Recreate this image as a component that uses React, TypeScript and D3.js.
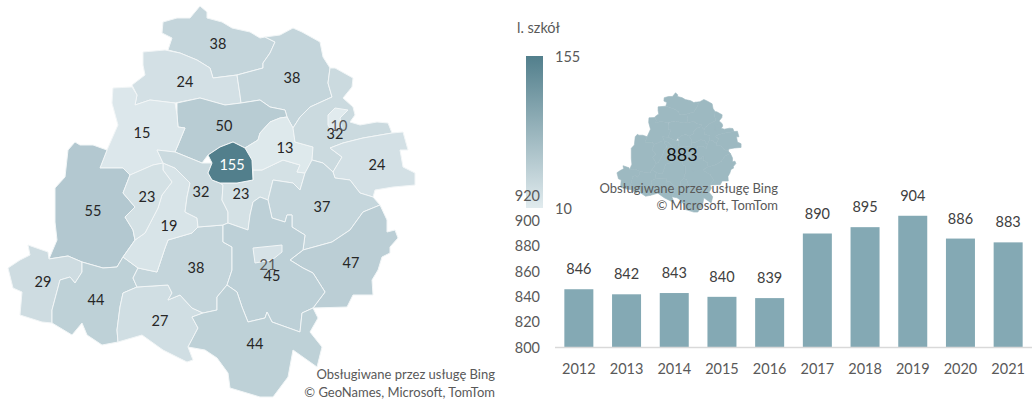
import React from "react";
import * as d3 from "d3";

// ---- bar chart data ----
const years = ["2012","2013","2014","2015","2016","2017","2018","2019","2020","2021"];
const schoolTotals = [846,842,843,840,839,890,895,904,886,883];
const axisTicks = [800,820,840,860,880,900,920];

// ---- map data: one entry per district, same order in every list ----
const regionValues = [38,24,38,50,15,55,29,44,27,38,19,23,32,23,13,32,24,37,47,45,44,155,10,21];

// district outlines in the map's own planar units
const regionOutlines: number[][][] = [
  [[200,6],[207,12],[207,18],[222,22],[232,28],[250,32],[260,38],[265,37],[275,42],[270,53],[263,63],[263,68],[237,75],[213,78],[210,68],[197,60],[180,53],[168,50],[172,38],[162,33],[163,22],[177,18],[190,18],[195,12]],
  [[143,52],[165,50],[180,53],[197,60],[210,68],[213,78],[237,75],[240,95],[241,103],[225,105],[200,98],[175,103],[150,100],[135,105],[137,95],[132,85],[145,75],[143,65]],
  [[293,28],[302,32],[320,42],[323,57],[330,68],[328,83],[332,97],[310,107],[300,117],[293,128],[287,117],[285,110],[270,107],[260,100],[241,103],[240,95],[237,75],[263,68],[263,63],[270,53],[275,42],[265,37],[280,35]],
  [[177,103],[200,98],[225,105],[241,103],[260,100],[270,107],[285,110],[287,117],[280,118],[270,122],[260,133],[258,140],[245,148],[233,142],[220,147],[208,155],[202,163],[175,152],[178,145],[185,128],[178,127],[177,115]],
  [[113,88],[132,87],[137,95],[135,105],[150,100],[175,103],[177,115],[178,127],[185,128],[178,145],[175,152],[157,150],[163,163],[153,165],[130,175],[123,168],[100,168],[107,150],[118,125],[112,103]],
  [[75,142],[80,145],[93,145],[107,150],[100,168],[123,168],[130,175],[123,193],[135,207],[125,217],[133,230],[135,240],[123,257],[117,267],[103,268],[82,262],[68,256],[49,259],[57,240],[55,222],[55,200],[55,188],[65,177],[68,150]],
  [[28,245],[48,252],[49,259],[68,256],[82,262],[82,272],[75,283],[70,277],[60,280],[52,310],[52,323],[42,322],[20,315],[22,292],[13,288],[8,268],[20,260],[30,255]],
  [[82,262],[103,268],[117,267],[123,257],[138,268],[133,278],[137,287],[123,293],[120,307],[117,330],[118,342],[102,345],[87,335],[82,323],[72,335],[52,323],[52,310],[60,280],[70,277],[75,283],[82,272]],
  [[137,287],[168,285],[172,293],[168,300],[180,295],[192,308],[203,313],[192,317],[198,328],[188,347],[193,360],[187,362],[163,350],[142,335],[118,342],[117,330],[120,307],[123,293]],
  [[168,240],[192,233],[198,227],[223,225],[223,242],[232,247],[232,270],[227,285],[217,297],[217,310],[203,313],[192,308],[180,295],[168,300],[172,293],[168,285],[137,287],[133,278],[138,268],[157,272],[165,248]],
  [[163,163],[175,168],[190,183],[187,197],[185,212],[197,218],[198,227],[192,233],[168,240],[165,248],[157,272],[138,268],[123,257],[135,240],[145,233],[158,208],[162,195],[172,182],[163,170]],
  [[130,175],[153,165],[163,163],[163,170],[172,182],[162,195],[158,208],[145,233],[135,240],[133,230],[125,217],[135,207],[123,193]],
  [[157,150],[175,152],[202,163],[212,163],[208,173],[212,180],[220,183],[223,185],[222,200],[228,212],[228,223],[223,225],[198,227],[197,218],[185,212],[187,197],[190,183],[175,168],[163,163]],
  [[253,180],[253,170],[262,170],[283,160],[300,165],[297,172],[305,173],[300,190],[293,183],[273,180],[268,200],[260,197],[253,202],[250,215],[248,230],[228,223],[228,212],[222,200],[223,185],[220,183],[237,183]],
  [[280,118],[287,117],[293,128],[295,142],[313,147],[312,160],[305,173],[297,172],[300,165],[283,160],[262,170],[253,170],[252,160],[245,148],[258,140],[260,133],[270,122]],
  [[330,68],[335,68],[353,78],[352,87],[343,98],[353,107],[355,115],[350,122],[360,125],[377,122],[388,123],[392,133],[363,138],[343,143],[330,148],[342,157],[333,172],[323,163],[312,160],[313,147],[295,142],[293,128],[300,117],[310,107],[332,97],[328,83]],
  [[392,133],[403,132],[408,150],[400,150],[403,167],[415,173],[415,185],[393,187],[375,190],[373,197],[360,193],[350,180],[335,178],[333,172],[342,157],[330,148],[343,143],[363,138]],
  [[312,160],[323,163],[333,172],[335,178],[350,180],[360,193],[373,197],[380,205],[363,212],[350,230],[332,242],[303,250],[305,235],[300,232],[292,227],[292,215],[287,215],[285,222],[272,218],[268,200],[273,180],[293,183],[300,190],[305,173]],
  [[380,205],[387,220],[387,232],[395,230],[398,238],[390,247],[390,253],[382,257],[378,270],[372,280],[373,295],[353,295],[347,307],[313,308],[325,292],[313,273],[303,268],[290,260],[303,250],[332,242],[350,230],[363,212]],
  [[228,223],[248,230],[250,215],[253,202],[260,197],[268,200],[272,218],[285,222],[287,215],[292,215],[292,227],[300,232],[305,235],[303,250],[290,260],[303,268],[313,273],[325,292],[313,308],[302,313],[300,332],[272,322],[267,312],[265,318],[248,322],[242,307],[237,292],[227,285],[232,270],[232,247],[223,242],[223,225]],
  [[227,285],[237,292],[242,307],[248,322],[265,318],[267,312],[272,322],[300,332],[302,313],[313,308],[318,318],[310,332],[322,347],[317,367],[293,350],[288,377],[273,397],[260,397],[230,388],[228,373],[217,358],[205,350],[188,347],[198,328],[192,317],[203,313],[217,310],[217,297]],
  [[233,142],[245,148],[252,160],[253,180],[237,183],[220,183],[212,180],[208,173],[212,163],[208,155],[220,147]],
  [[328,115],[335,108],[348,110],[340,118],[342,128],[332,132],[328,125]],
  [[253,248],[282,245],[282,252],[272,260],[255,263]],
];

// where each district's number sits on the map
const regionLabelPoints: number[][] = [
  [218,44],[185,82],[292,78],[224,126],[142,133],[93,211],[43,282],[96,300],[160,321],[196,268],[169,226],[147,197],[201,192],[241,194],[285,148],[335,134],[377,165],[322,207],[351,263],[272,276],[255,344],[232,165],[339,126],[268,265],
];

const inset = { label: "883" };
const legendTitle = "l. szkół";
const legendMax = 155;
const legendMin = 10;
const creditMapLines = ["Obsługiwane przez usługę Bing", "© GeoNames, Microsoft, TomTom"];
const creditInsetLines = ["Obsługiwane przez usługę Bing", "© Microsoft, TomTom"];

const FONT = "Lato, 'Open Sans', sans-serif";

export default function App() {
  const color = d3.scaleLinear<string>().domain([10, 55, 155]).range(["#e1ebee", "#b3c8d0", "#527f8c"]);
  const features = regionOutlines.map((ring) => ({
    type: "Feature" as const,
    properties: {},
    geometry: { type: "Polygon" as const, coordinates: [[...ring, ring[0]]] },
  }));
  const mapPath = d3.geoPath(d3.geoIdentity());
  const insetPath = d3.geoPath(d3.geoIdentity().scale(0.305).translate([614.5, 91]));

  const x = d3.scaleBand<string>().domain(years).range([555, 1032]).paddingInner(0.392).paddingOuter(0.196);
  const y = d3.scaleLinear().domain([800, 920]).range([347.5, 195.5]);

  return (
    <svg width={1035} height={401} style={{ position: "absolute", left: 0, top: 0, fontFamily: FONT }}>
      <defs>
        <linearGradient id="legendGrad" x1="0" x2="0" y1="0" y2="1">
          <stop offset="0%" stopColor="#527f8c" />
          <stop offset="100%" stopColor="#e1ebee" />
        </linearGradient>
      </defs>
      <rect width={1035} height={401} fill="#fff" />

      {features.map((f, i) => (
        <path key={i} d={mapPath(f as any) ?? ""} fill={color(regionValues[i])} stroke="#f2f6f7" strokeWidth={1} strokeLinejoin="round" />
      ))}
      {regionValues.map((v, i) => (
        <text
          key={i}
          x={regionLabelPoints[i][0]}
          y={regionLabelPoints[i][1]}
          dy=".35em"
          textAnchor="middle"
          fontSize={14.5}
          fill={v === 155 ? "#ffffff" : v === 10 || v === 21 ? "#595959" : "#262626"}
        >
          {v}
        </text>
      ))}
      {creditMapLines.map((t, i) => (
        <text key={t} x={495} y={374 + i * 18} dy=".35em" textAnchor="end" fontSize={13} fill="#595959">{t}</text>
      ))}

      <text x={517} y={28} dy=".35em" fontSize={14.5} fill="#595959">{legendTitle}</text>
      <rect x={526} y={56} width={17} height={152} fill="url(#legendGrad)" />
      <text x={555} y={57} dy=".35em" fontSize={14.5} fill="#595959">{legendMax}</text>
      <text x={555} y={209} dy=".35em" fontSize={14.5} fill="#595959">{legendMin}</text>

      {features.map((f, i) => (
        <path key={i} d={insetPath(f as any) ?? ""} fill="#9db9c1" stroke="#9db9c1" strokeWidth={0.6} />
      ))}
      <text x={682} y={155} dy=".35em" textAnchor="middle" fontSize={18} fill="#111">{inset.label}</text>
      {creditInsetLines.map((t, i) => (
        <text key={t} x={778} y={188 + i * 17.5} dy=".35em" textAnchor="end" fontSize={13} fill="#595959">{t}</text>
      ))}

      {axisTicks.map((t) => (
        <text key={t} x={540} y={y(t)} dy=".35em" textAnchor="end" fontSize={14.5} fill="#595959">{t}</text>
      ))}
      {years.map((yr, i) => (
        <g key={yr}>
          <rect
            x={x(yr)}
            y={y(schoolTotals[i])}
            width={x.bandwidth()}
            height={y(800) - y(schoolTotals[i])}
            fill="#84a9b4"
          />
          <text x={x(yr)! + x.bandwidth() / 2} y={y(schoolTotals[i]) - 20} dy=".35em" textAnchor="middle" fontSize={14.5} fill="#404040">
            {schoolTotals[i]}
          </text>
          <text x={x(yr)! + x.bandwidth() / 2} y={369} dy=".35em" textAnchor="middle" fontSize={14.5} fill="#595959">
            {yr}
          </text>
        </g>
      ))}
      <line x1={555} x2={1032} y1={y(800)} y2={y(800)} stroke="#d9d9d9" strokeWidth={1.5} />
    </svg>
  );
}
